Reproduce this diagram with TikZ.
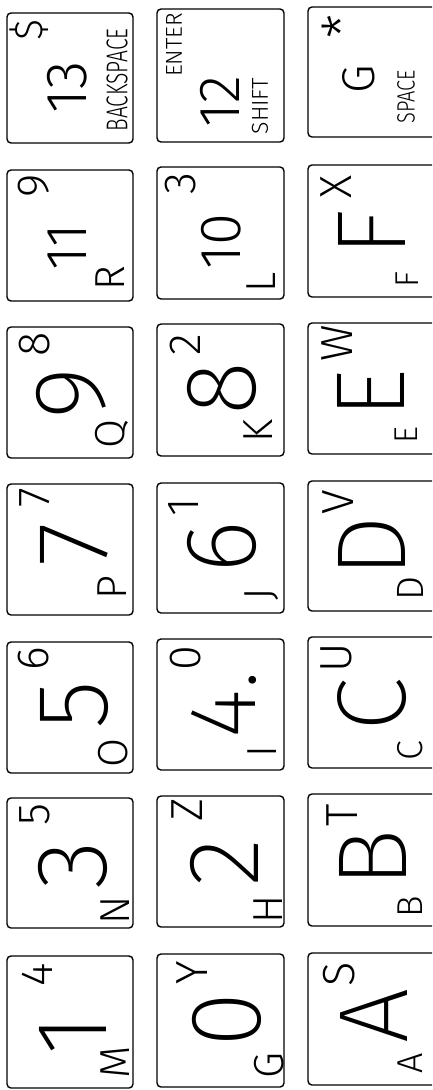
\documentclass[tikz,border=0pt]{standalone}
\usepackage{fontspec}
\usepackage{graphicx}
\IfFontExistsTF{Fira Sans ExtraLight}{\newfontfamily\bigf{Fira Sans ExtraLight}}{\newfontfamily\bigf{Fira Sans}}
\IfFontExistsTF{Fira Sans Light}{\newfontfamily\smf{Fira Sans Light}}{\newfontfamily\smf{Fira Sans}}
\tikzset{
  keybox/.style={draw, line width=1.4pt, rounded corners=4pt, inner sep=0pt},
  lab/.style={rotate=90, inner sep=0pt, anchor=center},
}
\newcommand{\KB}[5]{\node[keybox, minimum width=#3pt-#2pt, minimum height=#5pt-#4pt] (#1) at ({(#2+#3)/2},{(#4+#5)/2}) {};}
\newcommand{\BL}[5]{\node[lab, font=\bigf\fontsize{#4}{#4}\selectfont] (#1) at (#2,#3) {#5};}
\newcommand{\SL}[5]{\node[lab, font=\smf\fontsize{#4}{#4}\selectfont] (#1) at (#2,#3) {#5};}
\begin{document}
\begin{tikzpicture}[x=1pt,y=-1pt]
\useasboundingbox (0,0) rectangle (432,1090);
\clip (0,0) rectangle (432,1090);
% key boxes
\KB{k13}{7}{133}{13}{143}
\KB{k11}{7}{133}{170}{301}
\KB{k9}{7}{133}{327}{458}
\KB{k7}{7}{133}{484}{615}
\KB{k5}{7}{133}{642}{773}
\KB{k3}{7}{133}{798}{928}
\KB{k1}{7}{133}{956}{1088}
\KB{k12}{157}{284}{9}{142}
\KB{k10}{157}{284}{167}{299}
\KB{k8}{157}{284}{324}{456}
\KB{k6}{157}{284}{483}{613}
\KB{k4}{157}{284}{639}{770}
\KB{k2}{157}{284}{796}{927}
\KB{k0}{157}{284}{954}{1087}
\KB{kG}{308}{437}{7}{137}
\KB{kF}{308}{437}{165}{297}
\KB{kE}{308}{437}{323}{454}
\KB{kD}{308}{437}{481}{611}
\KB{kC}{308}{437}{637}{768}
\KB{kB}{308}{437}{794}{926}
\KB{kA}{308}{437}{953}{1085}
% row 1
\SL{t13}{29}{30}{40}{\$}
\SL{m13}{67}{87}{58}{13}
\SL{b13}{117}{80}{30}{\scalebox{0.7}[1]{BACKSPACE}}
\SL{t12}{174}{45}{23}{ENTER}
\SL{m12}{220}{102}{58}{12}
\SL{b12}{260}{106}{23}{SHIFT}
\SL{tG}{342}{27}{55}{*}
\SL{mG}{359}{79}{46}{G}
\SL{bG}{406}{97}{25}{\scalebox{0.8}[1]{SPACE}}
% row 2
\SL{t11}{34}{186}{45}{9}
\SL{m11}{67}{247}{58}{11}
\SL{b11}{110}{278}{42}{R}
\SL{t10}{181}{184}{45}{3}
\SL{m10}{221}{242}{58}{10}
\SL{b10}{261}{282}{42}{L}
\SL{tF}{336}{187}{45}{X}
\BL{mF}{372}{233}{98}{F}
\SL{bF}{407}{280}{33}{F}
% row 3
\SL{t9}{35}{344}{45}{8}
\BL{m9}{71}{393}{101}{9}
\SL{b9}{112}{434}{42}{Q}
\SL{t8}{185}{345}{45}{2}
\BL{m8}{222}{389}{101}{8}
\SL{b8}{258}{431}{42}{K}
\SL{tE}{337}{343}{45}{W}
\BL{mE}{371}{394}{98}{E}
\SL{bE}{406}{435}{33}{E}
% row 4
\SL{t7}{35}{498}{45}{7}
\BL{m7}{74}{545}{101}{7}
\SL{b7}{112}{588}{42}{P}
\SL{t6}{184}{507}{45}{1}
\BL{m6}{222}{547}{101}{6}
\SL{b6}{262}{594}{42}{J}
\SL{tD}{338}{502}{45}{V}
\BL{mD}{372}{547}{98}{D}
\SL{bD}{410}{588}{38}{D}
% row 5
\SL{t5}{34}{659}{45}{6}
\BL{m5}{75}{705}{101}{5}
\SL{b5}{113}{753}{42}{O}
\SL{t4}{186}{658}{45}{0}
\BL{m4}{224}{705}{95}{4.}
\SL{b4}{262}{752}{42}{I}
\SL{tC}{336}{658}{45}{U}
\BL{mC}{372}{705}{98}{C}
\SL{bC}{410}{751}{36}{C}
% row 6
\SL{t3}{35}{815}{45}{5}
\BL{m3}{73}{865}{101}{3}
\SL{b3}{115}{910}{42}{N}
\SL{t2}{187}{810}{45}{Z}
\BL{m2}{224}{863}{101}{2}
\SL{b2}{268}{909}{42}{H}
\SL{tB}{342}{815}{45}{T}
\BL{mB}{373}{858}{98}{B}
\SL{bB}{410}{907}{36}{B}
% row 7
\SL{t1}{37}{975}{45}{4}
\BL{m1}{73}{1035}{101}{1}
\SL{b1}{115}{1062}{42}{M}
\SL{t0}{192}{973}{45}{Y}
\BL{m0}{227}{1020}{101}{0}
\SL{b0}{269}{1066}{42}{G}
\SL{tA}{339}{974}{45}{S}
\BL{mA}{374}{1016}{98}{A}
\SL{bA}{410}{1063}{36}{A}
\end{tikzpicture}
\end{document}
